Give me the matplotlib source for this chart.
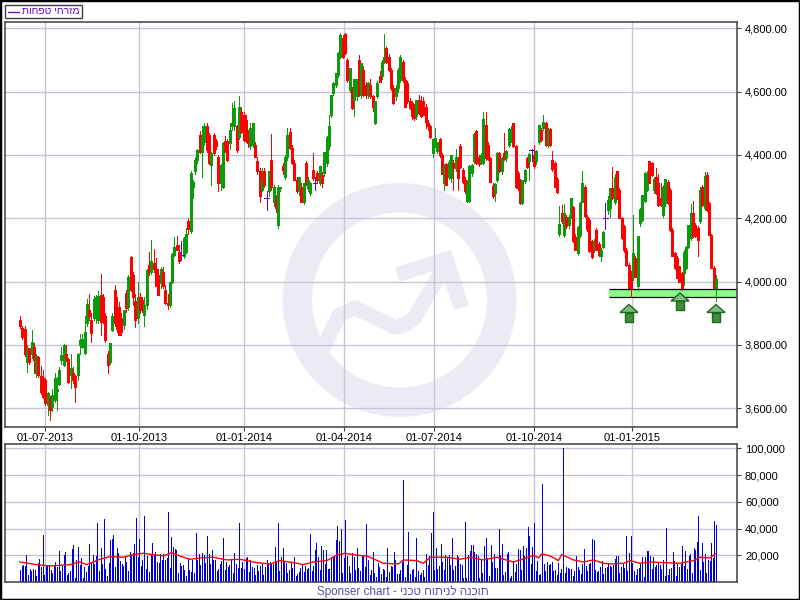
import numpy as np
import matplotlib
matplotlib.use("Agg")
import matplotlib.pyplot as plt
from matplotlib.lines import Line2D
from matplotlib.patches import Polygon, Rectangle, Wedge
from matplotlib.transforms import Affine2D

plt.rcParams['font.family'] = ['Liberation Sans', 'DejaVu Sans']
plt.rcParams['font.size'] = 8

legend_name = "מזרחי טפחות"
footer_hebrew = "תוכנה לניתוח טכני"
date_labels = ['01-07-2013', '01-10-2013', '01-01-2014', '01-04-2014', '01-07-2014', '01-10-2014', '01-01-2015']
# those dates as positions on the candle index
date_pos = [11.0, 51.8, 97.3, 140.7, 179.7, 223.1, 265.6]
price_ticks = [3600, 3800, 4000, 4200, 4400, 4600, 4800]
volume_ticks = [20000, 40000, 60000, 80000, 100000]
support_low = 3950
support_high = 3978
support_start = 255.5

opens = [
    3880, 3855, 3852, 3745, 3790, 3770, 3795, 3710, 3763, 3702,
    3695, 3690, 3610, 3630, 3605, 3625, 3654, 3677, 3752, 3737,
    3773, 3755, 3705, 3710, 3702, 3705, 3800, 3795, 3775, 3868,
    3910, 3880, 3884, 3900, 3880, 3958, 3950, 3890, 3773, 3745,
    3848, 3974, 3900, 3920, 3884, 3863, 3964, 3921, 4079, 4021,
    3939, 3885, 3953, 3942, 3895, 3927, 4053, 4032, 4060, 4039,
    4021, 3995, 4032, 3974, 3932, 3927, 4000, 4085, 4116, 4095,
    4085, 4080, 4095, 4190, 4161, 4300, 4348, 4385, 4464, 4411,
    4442, 4490, 4464, 4369, 4464, 4443, 4395, 4311, 4300, 4443,
    4443, 4437, 4490, 4490, 4490, 4458, 4537, 4527, 4511, 4474,
    4427, 4432, 4432, 4380, 4348, 4290, 4348, 4264, 4285, 4385,
    4253, 4258, 4180, 4295, 4364, 4332, 4395, 4474, 4422, 4374,
    4322, 4285, 4300, 4250, 4374, 4295, 4280, 4353, 4311, 4342,
    4311, 4337, 4343, 4374, 4427, 4527, 4595, 4622, 4653, 4711,
    4769, 4783, 4700, 4606, 4606, 4574, 4585, 4700, 4590, 4669,
    4622, 4590, 4622, 4585, 4500, 4585, 4648, 4648, 4695, 4737,
    4711, 4669, 4611, 4585, 4611, 4637, 4695, 4637, 4627, 4569,
    4564, 4553, 4522, 4574, 4570, 4570, 4553, 4500, 4492, 4406,
    4437, 4412, 4450, 4400, 4311, 4370, 4332, 4327, 4374, 4358,
    4385, 4429, 4353, 4321, 4256, 4256, 4342, 4380, 4477, 4395,
    4376, 4376, 4495, 4432, 4390, 4303, 4279, 4322, 4405,
    4348, 4405, 4390, 4432, 4448, 4500, 4427, 4342, 4320, 4248,
    4317, 4390, 4380, 4416, 4400, 4380, 4442, 4480, 4485, 4500,
    4430, 4482, 4385, 4374, 4324, 4151, 4216, 4148, 4204,
    4180, 4208, 4237, 4142, 4090, 4148, 4253, 4300, 4205, 4195,
    4127, 4105, 4163, 4120, 4080, 4111, 4200, 4227, 4232, 4295,
    4253, 4348, 4290, 4200, 4175, 4100, 4053, 4030, 4016,
    4074, 3987, 4185, 4195, 4255, 4290, 4380, 4374, 4290,
    4330, 4310, 4264, 4211, 4248, 4316, 4290, 4164,
    4090, 4074, 4048, 4027, 4027, 4043, 4111, 4138, 4216,
    4180, 4170, 4190, 4300, 4232, 4337, 4248, 4148, 4043,
    3980,
]
highs = [
    3891, 3860, 3860, 3800, 3790, 3847, 3805, 3770, 3765, 3735,
    3720, 3695, 3650, 3640, 3660, 3710, 3700, 3730, 3795, 3802,
    3800, 3760, 3770, 3730, 3705, 3775, 3835, 3835, 3890, 3945,
    3960, 3900, 3955, 3958, 3970, 4025, 3960, 3900, 3780, 3805,
    3900, 3990, 3950, 3935, 3900, 3912, 3975, 4020, 4082, 4030,
    3960, 4000, 3965, 3950, 3950, 4040, 4095, 4132, 4103, 4075,
    4040, 4046, 4045, 3990, 3960, 4000, 4090, 4140, 4145, 4115,
    4127, 4140, 4170, 4200, 4350, 4320, 4395, 4420, 4475, 4490,
    4500, 4500, 4470, 4410, 4470, 4450, 4400, 4370, 4440, 4460,
    4450, 4500, 4564, 4570, 4495, 4585, 4550, 4535, 4525, 4480,
    4500, 4500, 4440, 4395, 4360, 4358, 4360, 4285, 4350, 4466,
    4305, 4275, 4305, 4300, 4375, 4400, 4485, 4485, 4430, 4385,
    4330, 4332, 4310, 4312, 4380, 4330, 4315, 4406, 4332, 4350,
    4365, 4345, 4410, 4460, 4527, 4590, 4630, 4660, 4725, 4785,
    4780, 4785, 4705, 4675, 4615, 4640, 4640, 4715, 4690, 4680,
    4630, 4632, 4640, 4590, 4570, 4635, 4665, 4700, 4782, 4745,
    4720, 4675, 4620, 4620, 4675, 4715, 4700, 4645, 4635, 4580,
    4570, 4560, 4575, 4590, 4585, 4582, 4560, 4510, 4495, 4452,
    4485, 4440, 4455, 4405, 4370, 4375, 4385, 4400, 4385, 4418,
    4395, 4435, 4360, 4330, 4320, 4368, 4370, 4470, 4480, 4400,
    4405, 4537, 4537, 4440, 4395, 4310, 4310, 4408, 4410,
    4395, 4469, 4415, 4485, 4490, 4502, 4432, 4350, 4325, 4322,
    4355, 4395, 4405, 4418, 4430, 4415, 4495, 4485, 4525, 4505,
    4485, 4485, 4414, 4380, 4330, 4240, 4242, 4245, 4210,
    4210, 4265, 4240, 4150, 4175, 4250, 4348, 4305, 4210, 4200,
    4130, 4135, 4170, 4125, 4105, 4160, 4248, 4270, 4295, 4362,
    4340, 4350, 4295, 4205, 4180, 4105, 4060, 4035, 4210,
    4080, 4145, 4232, 4275, 4345, 4350, 4380, 4378, 4330,
    4360, 4340, 4310, 4305, 4325, 4320, 4295, 4170,
    4095, 4080, 4050, 4030, 4100, 4112, 4180, 4245, 4255,
    4185, 4175, 4300, 4305, 4345, 4345, 4250, 4150, 4048,
    4022,
]
lows = [
    3855, 3820, 3765, 3715, 3740, 3760, 3710, 3700, 3700, 3645,
    3632, 3610, 3579, 3563, 3590, 3620, 3595, 3675, 3740, 3735,
    3750, 3680, 3663, 3680, 3620, 3690, 3773, 3790, 3770, 3860,
    3880, 3810, 3880, 3870, 3870, 3830, 3870, 3810, 3710, 3740,
    3845, 3860, 3840, 3830, 3830, 3850, 3905, 3910, 3970, 3925,
    3857, 3870, 3900, 3905, 3860, 3915, 4020, 4025, 4030, 3985,
    3958, 3980, 3980, 3930, 3915, 3920, 3995, 4080, 4100, 4060,
    4067, 4075, 4090, 4150, 4155, 4264, 4340, 4375, 4405, 4332,
    4430, 4410, 4370, 4305, 4400, 4420, 4285, 4290, 4295, 4410,
    4380, 4420, 4480, 4480, 4410, 4450, 4470, 4445, 4440, 4425,
    4420, 4425, 4395, 4340, 4253, 4285, 4300, 4227, 4270, 4290,
    4240, 4220, 4170, 4285, 4340, 4325, 4385, 4420, 4370, 4320,
    4280, 4275, 4250, 4245, 4305, 4285, 4275, 4320, 4290, 4315,
    4305, 4300, 4335, 4365, 4420, 4520, 4590, 4615, 4645, 4705,
    4705, 4720, 4630, 4600, 4545, 4522, 4575, 4585, 4580, 4585,
    4580, 4580, 4580, 4540, 4498, 4580, 4630, 4640, 4690, 4690,
    4665, 4605, 4560, 4575, 4600, 4630, 4630, 4550, 4565, 4545,
    4515, 4510, 4515, 4530, 4520, 4525, 4485, 4480, 4455, 4395,
    4425, 4405, 4395, 4340, 4290, 4305, 4325, 4315, 4290, 4350,
    4290, 4360, 4310, 4280, 4250, 4250, 4335, 4375, 4370, 4365,
    4370, 4370, 4385, 4385, 4315, 4265, 4255, 4315, 4345,
    4340, 4385, 4380, 4425, 4440, 4425, 4295, 4290, 4245, 4244,
    4310, 4360, 4320, 4380, 4360, 4372, 4435, 4445, 4478, 4428,
    4425, 4428, 4350, 4298, 4280, 4145, 4185, 4140, 4170,
    4170, 4200, 4125, 4100, 4085, 4140, 4250, 4205, 4160, 4095,
    4075, 4095, 4100, 4080, 4065, 4105, 4165, 4215, 4205, 4260,
    4245, 4262, 4200, 4135, 4095, 4050, 3980, 3953, 4005,
    4015, 3975, 4175, 4190, 4250, 4285, 4310, 4335, 4280,
    4278, 4240, 4240, 4205, 4240, 4245, 4160, 4080,
    4040, 4010, 3998, 3975, 3990, 4040, 4105, 4130, 4140,
    4140, 4080, 4185, 4240, 4225, 4222, 4148, 4045, 3980,
    3940,
]
closes = [
    3860, 3826, 3770, 3785, 3747, 3810, 3752, 3765, 3705, 3652,
    3637, 3616, 3647, 3595, 3642, 3695, 3662, 3720, 3768, 3800,
    3755, 3684, 3726, 3690, 3666, 3773, 3815, 3820, 3842, 3930,
    3890, 3837, 3945, 3950, 3955, 3874, 3880, 3815, 3737, 3805,
    3892, 3870, 3850, 3832, 3842, 3910, 3916, 4016, 3974, 3953,
    3880, 3953, 3911, 3909, 3925, 4037, 4032, 4064, 4040, 3985,
    3958, 4040, 3985, 3932, 3925, 3998, 4087, 4110, 4100, 4065,
    4085, 4137, 4150, 4165, 4343, 4314, 4385, 4416, 4411, 4458,
    4490, 4416, 4374, 4406, 4406, 4427, 4311, 4369, 4437, 4416,
    4385, 4479, 4500, 4548, 4416, 4553, 4474, 4448, 4443, 4437,
    4485, 4500, 4395, 4348, 4269, 4321, 4306, 4264, 4348, 4300,
    4300, 4232, 4300, 4300, 4353, 4395, 4464, 4422, 4374, 4322,
    4285, 4332, 4253, 4311, 4311, 4321, 4311, 4327, 4311, 4321,
    4364, 4311, 4409, 4458, 4490, 4590, 4627, 4658, 4722, 4780,
    4711, 4722, 4637, 4674, 4548, 4640, 4640, 4590, 4690, 4590,
    4590, 4627, 4585, 4553, 4569, 4627, 4632, 4695, 4711, 4695,
    4669, 4611, 4564, 4611, 4669, 4711, 4637, 4551, 4569, 4548,
    4522, 4516, 4574, 4532, 4522, 4527, 4505, 4490, 4456, 4450,
    4453, 4440, 4400, 4340, 4368, 4306, 4379, 4400, 4358, 4395,
    4327, 4362, 4314, 4285, 4306, 4365, 4368, 4467, 4375, 4372,
    4400, 4513, 4390, 4387, 4316, 4270, 4308, 4405, 4348,
    4390, 4388, 4414, 4481, 4482, 4427, 4298, 4295, 4248, 4320,
    4352, 4362, 4402, 4416, 4364, 4413, 4495, 4448, 4505, 4430,
    4482, 4430, 4355, 4300, 4282, 4182, 4190, 4216, 4176,
    4205, 4263, 4127, 4100, 4174, 4248, 4311, 4206, 4165, 4096,
    4079, 4127, 4100, 4085, 4100, 4158, 4200, 4258, 4295, 4265,
    4332, 4265, 4200, 4138, 4100, 4053, 3980, 3980, 4090,
    4016, 4145, 4230, 4274, 4343, 4343, 4312, 4337, 4325,
    4280, 4243, 4243, 4300, 4323, 4248, 4164, 4080,
    4043, 4011, 4000, 3980, 4095, 4110, 4178, 4216, 4143,
    4143, 4130, 4290, 4243, 4334, 4225, 4148, 4043, 3980,
    4008,
]

# volume, thousands
volumes = [
    9, 12, 13, 12, 20, 5, 10, 8, 10, 9,
    4.5, 14.5, 17, 11.5, 35, 5, 12, 13, 13, 9,
    6.5, 13, 15, 11.5, 23, 8, 12, 20, 22.5, 5,
    6.5, 8, 25, 28, 3, 16.5, 26, 13, 18, 3,
    11.5, 7.5, 12, 28.5, 14, 20, 13.5, 19.5, 44, 8,
    25.5, 13.5, 47, 10, 4.5, 14, 31.5, 32, 35, 11,
    25.5, 21.5, 16, 13.5, 12, 19, 15, 8, 22.5, 20,
    22, 28.5, 48, 19, 32, 12, 16.5, 49.5, 10, 19.5,
    7.5, 20, 29, 20, 22.5, 15, 14, 21, 16.5, 21,
    16.5, 18, 52, 10.5, 34, 26, 25, 24, 6.5, 14,
    12, 13, 9, 4.5, 18, 9, 7.5, 16.5, 6.5, 37,
    16.5, 21, 13, 22, 20, 14, 34.5, 21, 13.5, 24,
    16.5, 16.5, 8, 10, 13.5, 16, 33, 9, 15, 11,
    13, 17, 6.5, 22, 13.5, 10.5, 44, 10.5, 15, 10,
    18, 19, 7.5, 16.5, 11, 10.5, 5, 13, 8, 12,
    13.5, 5, 11, 16.5, 13.5,
    15, 13.5, 13.5, 26, 16, 44, 8, 19, 25.5, 15,
    14, 6.5, 9, 15, 10.5, 19, 4.5, 6, 7.5, 10.5,
    13, 7.5, 12, 10, 10.5, 36, 8, 12, 24, 29,
    19, 9, 27, 24, 13.5, 24, 10, 10, 19, 19.5,
    19, 31.5, 42, 31, 40, 6.5, 18, 46, 19.5, 12,
    6.5, 22, 19, 9, 25.5, 10.5, 8, 20, 20, 11,
    43.5, 16.5, 5, 9, 22.5, 6.5, 4, 14, 11, 6,
    10, 9, 4, 25.5, 7.5, 12, 11, 22.5, 16.5, 6,
    6, 9, 15, 76, 4, 13, 37.5, 6, 9, 10,
    4, 33, 8, 5, 6.5, 9, 4, 21, 13, 19.5,
    37, 52.5, 9, 25.5, 10, 12, 28.5, 15, 9, 20,
    19, 20, 13, 33, 9, 12, 20, 19, 13.5, 13,
    3, 45, 3, 20, 23, 27.5, 27.5, 22.5, 21, 19.5,
    3, 16.5, 6.5, 27, 33, 18, 4.5, 27.5, 15, 21,
    10.5, 10.5, 40, 20, 28.5, 5, 7.5, 21, 22.5, 3,
    4.5, 16, 7.5, 13.5, 25, 24, 9, 27, 19.5, 25.5,
    41, 34.5, 13.5, 26.5, 44, 8, 16, 5, 6,
    73.5, 13.5, 8, 15, 13, 13.5, 15, 8, 9, 5,
    14, 6.5, 10, 100, 6.5, 11, 10.5, 10, 10, 4.5,
    8, 19.5, 11, 9, 6, 13.5, 25, 12, 8, 13.5,
    14, 32, 31.5, 9, 7.5, 8, 11, 16, 6, 10.5,
    11, 14, 12, 11, 13, 17, 19.5, 19.5, 6.5, 11,
    13.5, 10.5, 34.5, 8, 22, 34.5, 14, 8, 5, 10,
    10.5, 13.5, 19, 4, 19, 23, 23, 19.5, 10, 19,
    11, 13, 15, 13, 10, 16.5, 4.5, 40.5, 5, 10,
    10.5, 22.5, 16, 4.5, 13.5, 11, 13.5, 27, 12, 23,
    10, 19.5, 21, 6.5, 25.5, 24, 30, 49.5, 9, 29,
    15, 21, 6.5, 16.5, 16, 29, 18, 45.5, 42.5,
]

# volume moving average, thousands, read at these candle positions
ma_pos = [
    0, 7.2, 13, 21.7, 26, 28.9, 34.7, 39, 44.8, 49.2, 53.5, 62.2, 65.8, 70.8, 73.8, 78.1,
    83.9, 89.7, 95.4, 102.7, 108.5, 112.8, 118.6, 123, 127.3, 133.1, 137.4, 141, 146.1, 150.4,
    157.7, 164.2, 166.3, 172.1, 175, 177.9, 185.1, 190.9, 195.3, 201, 206.8, 214, 219.8, 222.7,
    224.9, 226.4, 230, 233.6, 235, 240.1, 244.4, 248.8, 253.1, 256.7, 261.8, 264.7, 269, 273.4,
    279.1, 286.4, 292.2, 295, 299.4, 301.6,
]
ma_values = [
    15, 13, 12, 13, 15, 13, 17, 19, 18.5, 20.5, 21.5, 19.5, 22, 18.5, 17, 18,
    18.5, 16.5, 17, 14.5, 13.5, 16, 14.5, 13, 15, 16, 20, 21.5, 20, 19.5,
    14, 13.5, 16.5, 16, 14, 18.5, 18.5, 17, 18.5, 16.5, 18.5, 15, 18, 20,
    18, 21, 19.5, 16, 20.5, 16.5, 15, 16.5, 14, 13.5, 14, 16, 14, 15,
    14.5, 14, 16, 18.5, 18, 21,
]

opens, highs, lows, closes = map(np.array, (opens, highs, lows, closes))
n = len(opens)
x = np.arange(n)
vol_x = np.arange(len(volumes)) * (n - 1) / (len(volumes) - 1)

fig = plt.figure(figsize=(8, 6), dpi=100, facecolor='white')
# figure pixels, y going down
px = Affine2D().scale(1, -1).translate(0, 600)

GRID = '#c8c4d8'
FRAME = '#404040'
WATERMARK = '#ebebf4'


def setup_axes(rect, ylim, ticks, fmt):
    l, t, r, b = rect
    ax = fig.add_axes([l / 800, 1 - b / 600, (r - l) / 800, (b - t) / 600])
    ax.set_xlim(-6.38, 311.2)
    ax.set_ylim(*ylim)
    ax.set_xticks(date_pos)
    ax.set_yticks(ticks)
    ax.set_yticklabels([fmt.format(t) for t in ticks])
    ax.yaxis.tick_right()
    ax.grid(True, color=GRID, lw=1.0)
    ax.set_axisbelow(True)
    ax.tick_params(axis='y', length=3, width=0.8, color=FRAME, pad=2.5)
    for s in ax.spines.values():
        s.set_color(FRAME)
        s.set_linewidth(1.1)
    return ax


ax = setup_axes((5.3, 22.3, 737.3, 427), (3541, 4819), price_ticks, '{:,.2f}')
ax.set_xticklabels(date_labels)
ax.tick_params(axis='x', length=3, width=0.8, color=FRAME, pad=1.5)

vax = setup_axes((5.3, 444, 737.3, 582), (0, 103200), volume_ticks, '{:,.0f}')
vax.set_xticklabels([])
vax.tick_params(axis='x', length=0)

# watermark behind the grid
ax.add_patch(Wedge((399.5, 300), 117, 0, 360, width=29.5, transform=px, fc=WATERMARK, ec='none', zorder=0.1))
ax.add_line(Line2D([322, 339.3, 355, 395, 405, 414, 439], [350, 315, 307.7, 327.3, 325, 318.3, 275.7],
                   transform=px, color=WATERMARK, lw=10.8, solid_joinstyle='round', solid_capstyle='butt', zorder=0.1))
ax.add_patch(Polygon([(395, 267.3), (451, 250), (469, 305.7), (454.3, 310), (444, 280), (432.3, 271.7), (399.3, 281.7)],
                     transform=px, fc=WATERMARK, ec='none', zorder=0.1))

# support band
ax.fill_between([support_start, 311.2], support_low, support_high, color='#88ff88', lw=0, zorder=1.5)
ax.hlines([support_low, support_high], support_start, 311.2, color='black', lw=0.9, zorder=1.6)

colors = np.where(closes > opens, '#0a9a0a', np.where(closes < opens, '#ff0000', '#6600cc'))
tops = np.maximum(opens, closes)
bottoms = np.minimum(opens, closes)
# wick then body per candle so later candles sit on top
seg_x = np.repeat(x, 2)
seg_lo = np.column_stack((lows, bottoms)).ravel()
seg_hi = np.column_stack((highs, tops)).ravel()
seg_lw = np.tile([0.7, 2.0], n)
seg_col = np.repeat(colors, 2)
ax.vlines(seg_x, seg_lo, seg_hi, colors=seg_col, linewidths=seg_lw, antialiased=False, zorder=2)
doji = closes == opens
ax.hlines(opens[doji], x[doji] - 1, x[doji] + 1, colors='#6600cc', lw=0.7, antialiased=False, zorder=2)

# arrows on the support touches
for cx, ty in [(629, 304.5), (680, 293), (716, 304.5)]:
    ax.add_patch(Polygon([(cx - 4, ty + 8), (cx + 4, ty + 8), (cx + 4, ty + 17), (cx - 4, ty + 17)],
                         transform=px, fc='#3f8f3f', ec='#1a6b1a', lw=1, zorder=3, clip_on=False))
    ax.add_patch(Polygon([(cx, ty), (cx + 9, ty + 8), (cx - 9, ty + 8)],
                         transform=px, fc='#84b884', ec='#1a6b1a', lw=1, zorder=3.1, clip_on=False))

vax.vlines(vol_x, 0, np.array(volumes) * 1000, colors='#0000dd', lw=0.7, antialiased=False, zorder=2)
vax.plot(ma_pos, np.array(ma_values) * 1000, color='#ff0000', lw=1.0, zorder=3)

# legend box
fig.add_artist(Rectangle((5.3, 4.5), 76.7, 13.5, transform=px, fc='white', ec=FRAME, lw=1))
fig.add_artist(Line2D([8, 19], [11.5, 11.5], transform=px, color='#6600cc', lw=0.9))
fig.text(22, 11.5, legend_name[::-1], transform=px, color='#6600cc', fontsize=7.4, va='center', ha='left')

fig.text(402.5, 591.5, 'Sponser chart - ' + footer_hebrew[::-1], transform=px, color='#5252a8',
         fontsize=8.4, ha='center', va='center')

# outer frame
fig.add_artist(Rectangle((0, 0), 1, 1, transform=fig.transFigure, fc='none', ec='black', lw=2.5))

fig.savefig('out.png', dpi=100)
